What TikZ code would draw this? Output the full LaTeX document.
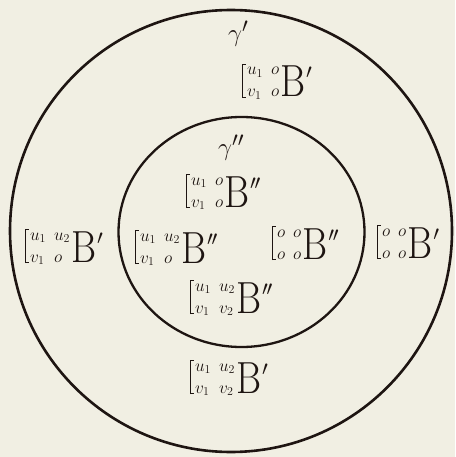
\documentclass[tikz,border=0pt]{standalone}
\usepackage{graphicx}
\definecolor{paper}{HTML}{F1EFE3}
\definecolor{ink}{HTML}{1E1512}
\newcommand\brk{\rlap{\vrule width 4pt height 33pt depth -32.2pt}\rlap{\vrule width 4pt height -0.2pt depth 1pt}\vrule width 0.8pt height 33pt depth 1pt}
\newcommand\BB{\scalebox{0.85}[1]{\fontsize{45}{45}\selectfont B}}
\newcommand\oo{{\fontsize{19}{19}\selectfont$o$}}
\newcommand\pr{\raisebox{18pt}{\fontsize{22}{22}\selectfont$\prime$}}
\newcommand\ppr{\raisebox{18pt}{\fontsize{22}{22}\selectfont$\prime\mkern-1mu\prime$}}
\newcommand\mlab[5]{\hbox{\brk\kern4pt{\fontsize{18.5}{22}\selectfont\begin{tabular}[b]{@{}l@{\hspace{8pt}}l@{}}#1&#2\\#3&#4\end{tabular}}\kern1pt\BB\kern1pt#5}}
\tikzset{
  lab/.style={anchor=base west,inner sep=0pt,text=ink},
  ring/.style={draw=ink,line width=2.6pt},
  gam/.style={anchor=base west,inner sep=0pt,text=ink,font=\fontsize{30}{30}\selectfont}
}
\begin{document}
\begin{tikzpicture}[x=1pt,y=-1pt]
\fill[paper] (0,0) rectangle (455,457);
\useasboundingbox (0,0) rectangle (455,457);
\draw[ring] (231,231) circle[radius=221pt];
\draw[ring,line width=2.3pt] (241.5,232) ellipse[x radius=123pt,y radius=115pt];
\node[gam] (g1) at (228,42) {$\gamma'$};
\node[gam] (g2) at (218,156) {$\gamma''$};
\node[lab] (l1) at (242,97) {\mlab{$u_1$}{\oo}{$v_1$}{\oo}{\pr}};
\node[lab] (l2) at (186,207) {\mlab{$u_1$}{\oo}{$v_1$}{\oo}{\ppr}};
\node[lab] (l3) at (25,262) {\mlab{$u_1$}{$u_2$}{$v_1$}{\oo}{\pr}};
\node[lab] (l4) at (135,263) {\mlab{$u_1$}{$u_2$}{$v_1$}{\oo}{\ppr}};
\node[lab] (l5) at (272,259) {\mlab{\oo}{\oo}{\oo}{\oo}{\ppr}};
\node[lab] (l6) at (377,258) {\mlab{\oo}{\oo}{\oo}{\oo}{\pr}};
\node[lab] (l7) at (190,313) {\mlab{$u_1$}{$u_2$}{$v_1$}{$v_2$}{\ppr}};
\node[lab] (l8) at (190,393) {\mlab{$u_1$}{$u_2$}{$v_1$}{$v_2$}{\pr}};
\end{tikzpicture}
\end{document}
